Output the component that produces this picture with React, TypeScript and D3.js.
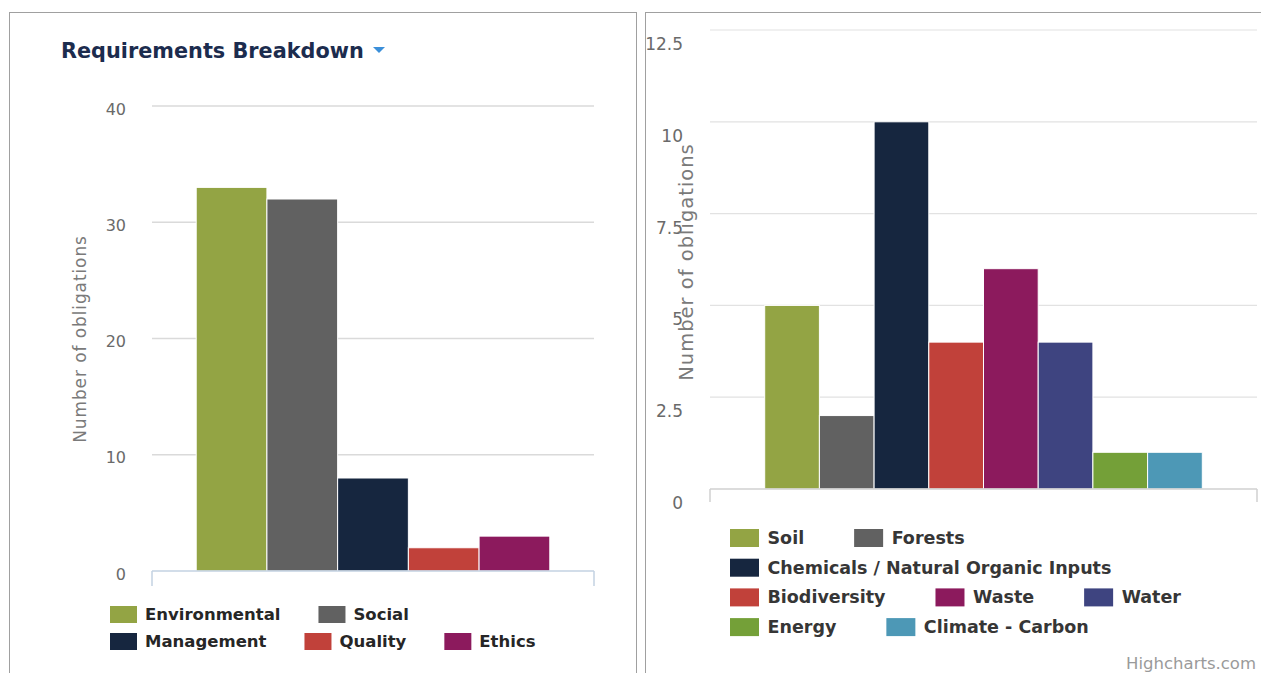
import React, { useEffect, useRef } from "react";
import * as d3 from "d3";

// Requirements breakdown (left chart)
const reqCategories = ["Environmental", "Social", "Management", "Quality", "Ethics"];
const reqValues = [33, 32, 8, 2, 3];
const reqColors = ["#93a444", "#616161", "#16263f", "#c1413a", "#8c1a5d"];
const reqTicks = [0, 10, 20, 30, 40];

// Environmental obligations by topic (right chart)
const envCategories = [
  "Soil",
  "Forests",
  "Chemicals / Natural Organic Inputs",
  "Biodiversity",
  "Waste",
  "Water",
  "Energy",
  "Climate - Carbon",
];
const envValues = [5, 2, 10, 4, 6, 4, 1, 1];
const envColors = ["#93a444", "#616161", "#16263f", "#c1413a", "#8c1a5d", "#3e4480", "#74a038", "#4d98b6"];
const envTicks = [0, 2.5, 5, 7.5, 10, 12.5];

const W = 1261;
const H = 673;

type ChartCfg = {
  names: string[];
  values: number[];
  colors: string[];
  ticks: number[];
  x: [number, number];
  y: [number, number];
  max: number;
  gridColor: string;
  gridWidth: number;
  axisColor: string;
  tickLen: number;
  labelX: number;
  labelDy: number;
  labelSize: number;
  titleX: number;
  titleY: number;
  titleSize: number;
  titleSpacing: number;
  legend: {
    x: number;
    y: number;
    maxW: number;
    rowH: number;
    symW: number;
    symH: number;
    textOff: number;
    gap: number;
    size: number;
    color: string;
  };
};

function drawChart(root: d3.Selection<SVGGElement, unknown, null, undefined>, c: ChartCfg) {
  const y = d3.scaleLinear().domain([0, c.max]).range(c.y);
  const x0 = d3.scaleBand<string>().domain(["all"]).range(c.x).paddingInner(0).paddingOuter(0.125);
  const x1 = d3.scaleBand<string>().domain(c.names).range([0, x0.bandwidth()]).padding(0);

  // grid
  root
    .append("g")
    .selectAll("line")
    .data(c.ticks.filter((t) => t > 0))
    .join("line")
    .attr("x1", c.x[0])
    .attr("x2", c.x[1])
    .attr("y1", (d) => y(d))
    .attr("y2", (d) => y(d))
    .attr("stroke", c.gridColor)
    .attr("stroke-width", c.gridWidth);

  // tick labels
  root
    .append("g")
    .selectAll("text")
    .data(c.ticks)
    .join("text")
    .attr("x", c.labelX)
    .attr("y", (d) => y(d) + c.labelDy)
    .attr("text-anchor", "end")
    .attr("dominant-baseline", "central")
    .attr("font-family", "DejaVu Sans")
    .attr("font-size", c.labelSize)
    .attr("fill", "#6a6a6a")
    .text((d) => String(d));

  // axis title
  root
    .append("text")
    .attr("transform", `translate(${c.titleX},${c.titleY}) rotate(-90)`)
    .attr("text-anchor", "middle")
    .attr("dominant-baseline", "central")
    .attr("font-family", "DejaVu Sans")
    .attr("font-size", c.titleSize)
    .attr("letter-spacing", c.titleSpacing)
    .attr("fill", "#7a7a7a")
    .text("Number of obligations");

  // bars
  root
    .append("g")
    .selectAll("rect")
    .data(c.names.map((n, i) => ({ n, v: c.values[i], col: c.colors[i] })))
    .join("rect")
    .attr("x", (d) => (x0("all") as number) + (x1(d.n) as number))
    .attr("width", x1.bandwidth())
    .attr("y", (d) => y(d.v))
    .attr("height", (d) => y(0) - y(d.v))
    .attr("fill", (d) => d.col)
    .attr("stroke", "#ffffff")
    .attr("stroke-width", 1);

  // x axis line with end ticks
  const base = y(0);
  const ax = root.append("g").attr("stroke", c.axisColor).attr("stroke-width", 1.5).attr("fill", "none");
  ax.append("line").attr("x1", c.x[0]).attr("x2", c.x[1]).attr("y1", base).attr("y2", base);
  ax.append("line").attr("x1", c.x[0]).attr("x2", c.x[0]).attr("y1", base).attr("y2", base + c.tickLen);
  ax.append("line").attr("x1", c.x[1]).attr("x2", c.x[1]).attr("y1", base).attr("y2", base + c.tickLen);

  // legend with row wrapping
  const L = c.legend;
  const lg = root.append("g");
  let cx = L.x;
  let row = 0;
  c.names.forEach((n, i) => {
    const item = lg.append("g");
    const t = item
      .append("text")
      .attr("font-family", "DejaVu Sans")
      .attr("font-weight", "bold")
      .attr("font-size", L.size)
      .attr("fill", L.color)
      .attr("dominant-baseline", "central")
      .text(n);
    const tw = (t.node() as SVGTextElement).getComputedTextLength();
    const iw = L.textOff + tw;
    if (cx > L.x && cx + iw - L.x > L.maxW) {
      row += 1;
      cx = L.x;
    }
    const cy = L.y + row * L.rowH;
    item
      .append("rect")
      .attr("x", cx)
      .attr("y", cy - L.symH / 2)
      .attr("width", L.symW)
      .attr("height", L.symH)
      .attr("fill", c.colors[i]);
    t.attr("x", cx + L.textOff).attr("y", cy);
    cx += iw + L.gap;
  });
}

export default function App() {
  const ref = useRef<SVGSVGElement>(null);

  useEffect(() => {
    document.body.style.margin = "0";
    const svg = d3.select(ref.current as SVGSVGElement);
    svg.selectAll("*").remove();

    svg.append("rect").attr("width", W).attr("height", H).attr("fill", "#ffffff");

    // panel frames
    svg
      .append("rect")
      .attr("x", 9.5)
      .attr("y", 12.5)
      .attr("width", 627)
      .attr("height", 700)
      .attr("fill", "none")
      .attr("stroke", "#a0a0a0");
    svg
      .append("rect")
      .attr("x", 645.5)
      .attr("y", 12.5)
      .attr("width", 700)
      .attr("height", 700)
      .attr("fill", "none")
      .attr("stroke", "#a0a0a0");

    svg
      .append("defs")
      .append("clipPath")
      .attr("id", "right-panel")
      .append("rect")
      .attr("x", 646)
      .attr("y", 13)
      .attr("width", W - 646)
      .attr("height", H - 13);

    // left chart title
    const left = svg.append("g");
    left
      .append("text")
      .attr("x", 61)
      .attr("y", 58)
      .attr("font-family", "DejaVu Sans")
      .attr("font-weight", "bold")
      .attr("font-size", 20.8)
      .attr("fill", "#1c2c4e")
      .text("Requirements Breakdown");
    left
      .append("path")
      .attr("d", "M373,47 L385,47 L379,53 Z")
      .attr("fill", "#3b8fd9");

    drawChart(left, {
      names: reqCategories,
      values: reqValues,
      colors: reqColors,
      ticks: reqTicks,
      x: [152, 594],
      y: [571, 106],
      max: 40,
      gridColor: "#dadada",
      gridWidth: 1.5,
      axisColor: "#c3d2e2",
      tickLen: 15,
      labelX: 126,
      labelDy: 3,
      labelSize: 16,
      titleX: 80,
      titleY: 339,
      titleSize: 17,
      titleSpacing: 0.9,
      legend: {
        x: 110,
        y: 614.5,
        maxW: 460,
        rowH: 27,
        symW: 27,
        symH: 17,
        textOff: 35,
        gap: 38,
        size: 16.5,
        color: "#262626",
      },
    });

    const right = svg.append("g").attr("clip-path", "url(#right-panel)");
    drawChart(right, {
      names: envCategories,
      values: envValues,
      colors: envColors,
      ticks: envTicks,
      x: [710, 1257],
      y: [489, 30],
      max: 12.5,
      gridColor: "#e2e2e2",
      gridWidth: 1.2,
      axisColor: "#d0d0d0",
      tickLen: 13,
      labelX: 683,
      labelDy: 14,
      labelSize: 17,
      titleX: 686,
      titleY: 262,
      titleSize: 19.5,
      titleSpacing: 1,
      legend: {
        x: 730,
        y: 538,
        maxW: 530,
        rowH: 29.7,
        symW: 29,
        symH: 18,
        textOff: 37.5,
        gap: 50,
        size: 17.5,
        color: "#363636",
      },
    });

    right
      .append("text")
      .attr("x", 1256)
      .attr("y", 669)
      .attr("text-anchor", "end")
      .attr("font-family", "DejaVu Sans")
      .attr("font-size", 16.5)
      .attr("fill", "#9a9a9a")
      .text("Highcharts.com");
  }, []);

  return <svg ref={ref} width={W} height={H} style={{ display: "block" }} />;
}
